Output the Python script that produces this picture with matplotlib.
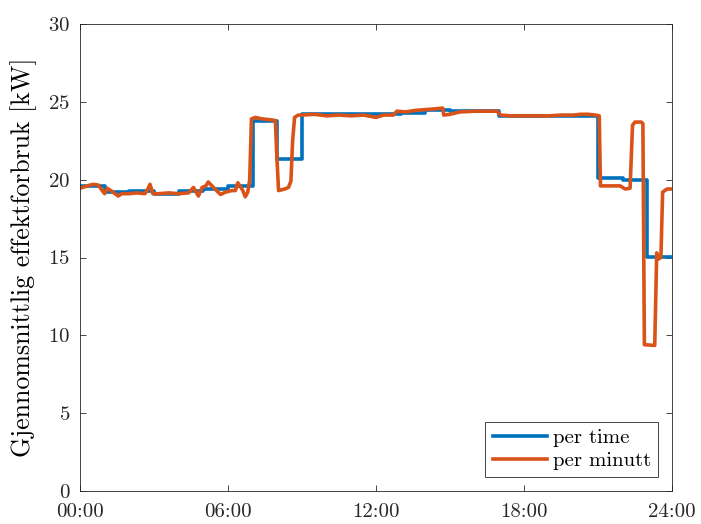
import matplotlib
matplotlib.use("Agg")
import matplotlib.pyplot as plt
import numpy as np

plt.rcParams['font.family'] = ['cmr10', 'DejaVu Serif']
plt.rcParams['axes.formatter.use_mathtext'] = True
plt.rcParams['mathtext.fontset'] = 'cm'

# timesverdier (per time), en verdi per time 00-23
timer = np.arange(25)
per_time = [19.6, 19.2, 19.3, 19.1, 19.3, 19.4, 19.6, 23.8, 21.3, 24.2,
            24.2, 24.2, 24.2, 24.3, 24.5, 24.4, 24.4, 24.1, 24.1, 24.1,
            24.1, 20.1, 20.0, 15.05]
per_time_kant = per_time + [per_time[-1]]

# minuttverdier (timer, kW)
t_min = [0.0, 0.2, 0.4, 0.55, 0.75, 0.9, 1.0, 1.1, 1.25, 1.42,
         1.55, 1.7, 2.0, 2.3, 2.63, 2.75, 2.84, 2.95, 3.2, 3.6,
         4.0, 4.4, 4.6, 4.8, 4.95, 5.1, 5.2, 5.35, 5.5, 5.7,
         5.9, 6.15, 6.3, 6.4, 6.6, 6.7, 6.8, 6.88, 6.95, 7.1,
         7.4, 7.7, 7.92, 7.98, 8.05, 8.3, 8.45, 8.55, 8.62, 8.7,
         8.85, 9.0, 9.5, 10.0, 10.5, 11.0, 11.5, 12.0, 12.3, 12.7,
         12.85, 13.2, 13.6, 14.0, 14.4, 14.7, 14.75, 15.0, 15.4, 16.0,
         16.5, 16.9, 17.05, 17.5, 18.0, 18.5, 19.0, 19.5, 20.0, 20.3,
         20.6, 20.9, 21.05, 21.1, 21.5, 21.9, 22.1, 22.3, 22.4, 22.5,
         22.75, 22.82, 22.88, 23.3, 23.38, 23.45, 23.55, 23.62, 23.8, 24.0]
per_minutt = [19.45, 19.55, 19.65, 19.7, 19.65, 19.3, 19.1, 19.45, 19.3, 19.1,
              18.95, 19.1, 19.1, 19.15, 19.1, 19.4, 19.7, 19.1, 19.1, 19.15,
              19.1, 19.15, 19.5, 18.95, 19.5, 19.6, 19.85, 19.6, 19.35, 19.05,
              19.2, 19.3, 19.3, 19.8, 19.3, 18.9, 19.2, 20.0, 23.9, 24.0,
              23.9, 23.85, 23.8, 21.5, 19.3, 19.4, 19.5, 19.9, 22.5, 24.0,
              24.15, 24.15, 24.2, 24.1, 24.15, 24.1, 24.15, 24.0, 24.15, 24.15,
              24.4, 24.35, 24.45, 24.5, 24.55, 24.6, 24.15, 24.2, 24.35, 24.4,
              24.4, 24.4, 24.15, 24.1, 24.1, 24.1, 24.1, 24.15, 24.15, 24.2,
              24.2, 24.15, 24.1, 19.6, 19.6, 19.6, 19.4, 19.45, 23.5, 23.7,
              23.7, 23.6, 9.4, 9.35, 15.3, 14.9, 15.0, 19.2, 19.4, 19.4]

xticks = [0, 6, 12, 18, 24]
xticklabels = ['00:00', '06:00', '12:00', '18:00', '24:00']

fig = plt.figure(figsize=(7.01, 5.24), dpi=100)
ax = fig.add_axes([80/701, 33/524, 592/701, 467/524])

ax.step(timer, per_time_kant, where='post', color='#0072BD', lw=2.6, label='per time')
ax.plot(t_min, per_minutt, color='#D95319', lw=2.6, label='per minutt')

ax.set_xlim(0, 24)
ax.set_ylim(0, 30)
ax.set_xticks(xticks)
ax.set_xticklabels(xticklabels)
ax.set_yticks(np.arange(0, 31, 5))
ax.tick_params(direction='in', top=True, right=True, labelsize=15,
               length=4, width=0.6, colors='#262626')
ax.tick_params(axis='y', pad=7)
ax.tick_params(axis='x', pad=9)
for s in ax.spines.values():
    s.set_linewidth(0.6)
    s.set_color('#262626')
ax.set_ylabel('Gjennomsnittlig effektforbruk [kW]', fontsize=18.6)
ax.yaxis.set_label_coords(-0.072, 0.5)

leg = ax.legend(loc='lower right', fontsize=15, fancybox=False, framealpha=1,
                edgecolor='#262626', handlelength=2.6, borderpad=0.35,
                labelspacing=0.2, handletextpad=0.3, borderaxespad=0.65)
leg.get_frame().set_linewidth(0.6)

fig.savefig('out.png', dpi=100)
